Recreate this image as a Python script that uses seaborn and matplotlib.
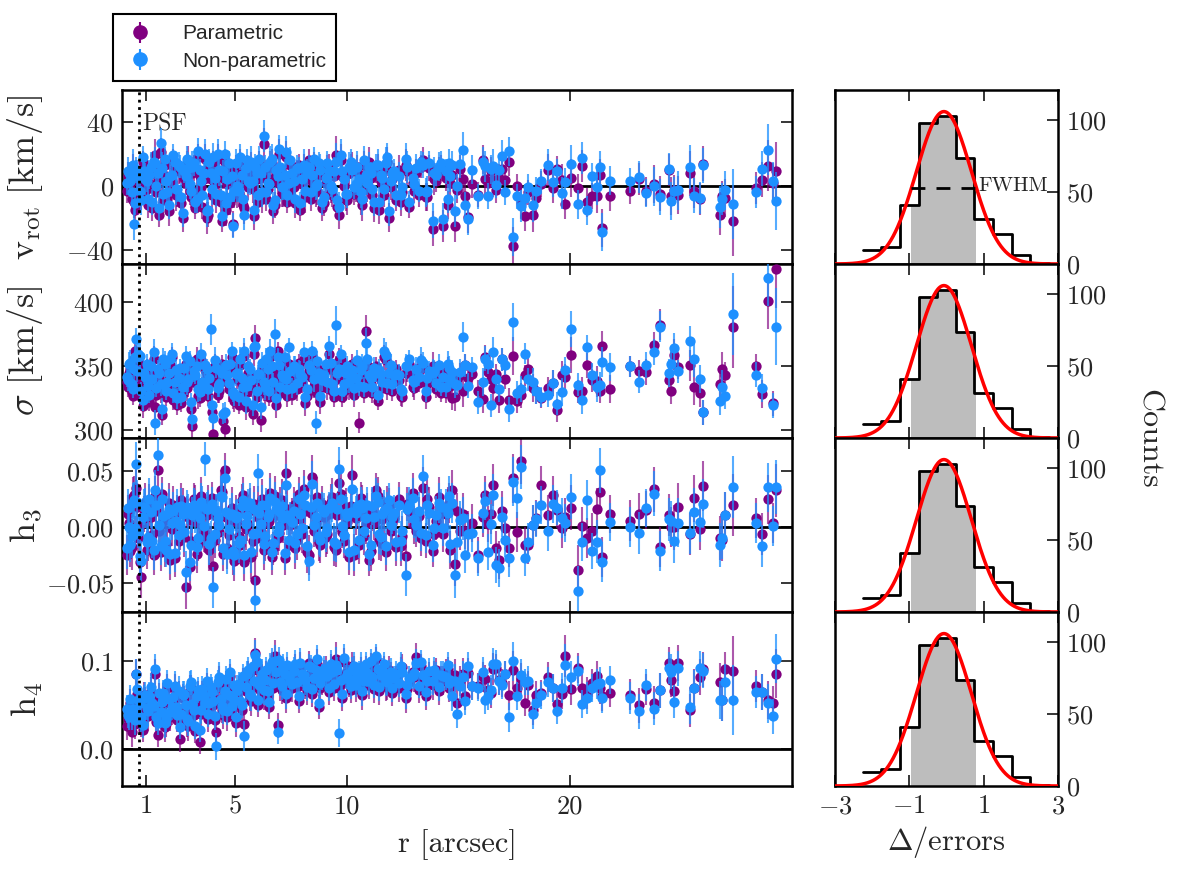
import numpy as np
import matplotlib
matplotlib.use("Agg")
import matplotlib.pyplot as plt
import seaborn as sns
import pandas as pd

# ---------------- data ----------------
r = [0.15, 0.25, 0.35, 0.45, 0.55, 0.65, 0.78, 0.90, 1.02, 1.15,
     1.28, 1.40, 1.52, 1.65, 1.78, 1.90, 2.02, 2.15, 2.28, 2.40,
     2.52, 2.65, 2.78, 2.90, 3.02, 3.15, 3.28, 3.40, 3.52, 3.65,
     3.78, 3.90, 4.02, 4.15, 4.28, 4.40, 4.52, 4.65, 4.78, 4.90,
     5.02, 5.15, 5.28, 5.40, 5.52, 5.65, 5.78, 5.90, 6.02, 6.15,
     6.28, 6.40, 6.52, 6.65, 6.78, 6.90, 7.02, 7.15, 7.28, 7.40,
     7.55, 7.70, 7.85, 8.00, 8.15, 8.30, 8.45, 8.60, 8.75, 8.90,
     9.05, 9.20, 9.35, 9.50, 9.65, 9.80, 9.95, 10.10, 10.25, 10.40,
     10.55, 10.70, 10.85, 11.00, 11.15, 11.30, 11.45, 11.60, 11.75, 11.90,
     12.05, 12.20, 12.35, 12.50, 12.65, 12.80, 12.95, 13.10, 13.25, 13.40,
     13.55, 13.70, 13.85, 14.00, 14.15, 14.30, 14.45, 14.58,
     14.71, 14.85, 14.95, 15.08, 15.20, 15.30, 15.46, 15.60, 15.90, 16.10,
     16.22, 16.35, 16.46, 16.58, 16.70, 16.84, 16.95, 17.10, 17.29, 17.47,
     17.62, 17.80, 18.00, 18.15, 18.34, 18.49, 18.71, 19.04, 19.25, 19.45,
     19.65, 19.79, 20.04, 20.36, 20.55, 20.76, 20.98, 21.21, 21.35, 21.43, 21.81,
     22.70, 23.12, 23.42, 23.79, 24.05, 24.45, 24.55, 24.68, 24.87, 25.39,
     25.57, 25.84, 25.99, 26.74, 26.84, 26.96, 27.34, 28.35, 28.61, 28.88,
     29.10, 29.25,
     0.20, 0.30, 0.40, 0.50, 0.60, 0.72, 0.84, 0.96, 1.08, 1.21,
     1.34, 1.46, 1.58, 1.71, 1.84, 1.96, 2.08, 2.21, 2.34, 2.46,
     2.58, 2.71, 2.84, 2.96, 3.08, 3.21, 3.34, 3.46, 3.58, 3.71,
     3.84, 3.96, 4.08, 4.21, 4.34, 4.46, 4.58, 4.71, 4.84, 4.96,
     5.08, 5.21, 5.34, 5.46, 5.58, 5.71, 5.84, 5.96, 6.08, 6.21,
     6.34, 6.46, 6.58, 6.71, 6.84, 6.96, 7.08, 7.21, 7.34, 7.47,
     7.62, 7.78, 7.92, 8.08, 8.22, 8.38, 8.52, 8.68, 8.82, 8.98,
     9.12, 9.28, 9.42, 9.58, 9.72, 9.88, 10.02, 10.18, 10.32, 10.48,
     10.62, 10.78, 10.92, 11.08, 11.22, 11.38, 11.52, 11.68, 11.82, 11.98,
     12.12, 12.42, 12.72, 13.02, 13.32, 13.62, 13.92, 14.22, 14.52, 14.64]

v_par = [-3, 5, -8, -10, 8, 4, -6, 12, -2, 2,
         -14, 19, 4, 21, -9, 6, -16, 3, 12, -5,
         9, -20, 2, 15, -7, 11, -3, 6, -13, 17,
         -18, 4, 13, -9, 7, -22, 15, 1, -11, -24,
         10, -6, 3, -14, 12, 6, -2, 8, -10, 5,
         26, -8, 4, 14, -12, 2, 9, -5, 18, -3,
         5, -11, 13, 1, -7, 16, 3, -4, 10, -14,
         2, 12, -6, 19, -18, 6, -9, 8, 13, -3,
         7, -12, 3, 15, -6, 9, -15, 1, 11, -20,
         4, -9, 10, -4, 13, -13, 2, 8, -6, 16,
         -7, 11, -27, 3, 9, -25, 5, 8,
         6.9, -25.4, -2.5, 10.4, 4.2, -6.7, -19.6, 1.2, -5.6, 16.3,
         4.2, 1.7, 9.0, 3.8, -2.5, 4.8, 10.4, 3.8, 15.2, -37.9,
         -0.4, -10.8, -19.2, -4.2, -18.1, -7.7, 1.2, 10.0, -1.5, 10.4,
         3.8, -11.5, 4.8, -1.5, 12.5, -10.4, -6.3, -6.3, 6.9, -26.5, -6.7,
         -3.5, 4.2, -3.5, 1.0, -5.0, 10.0, -6.3, -2.5, -5.6, 7.9,
         -3.1, -8.3, 13.8, -18.0, -6.7, -7.7, -22.0, -1.5, 3.8, 12.5,
         2.0, 9.4,
         6, -2, 10, -15, 3, -7, 15, 0, -12, 8,
         11, -4, -18, 7, 13, -8, 2, 16, -6, 9,
         -11, 5, 14, -3, 8, -14, 18, -1, 4, -20,
         12, -6, 1, 17, -10, 5, -15, 10, 2, -7,
         -4, 15, -12, 7, -1, 11, -19, 4, 14, -8,
         9, -2, 12, -16, 6, 20, -5, 3, -10, 13,
         -1, 8, -15, 10, 4, -8, 14, -3, 7, -11,
         11, -4, 6, -13, 16, 0, -9, 12, -5, 9,
         -8, 13, -2, 5, -14, 10, 3, -6, 15, -1,
         6, -10, 9, -3, 12, -7, 4, 11, -12, 2]
v_np = [2, 8, -4, -24, 10, 6, -9, 9, 3, 7,
        -10, 14, 8, 27, -5, 3, -12, 7, 15, -2,
        12, -17, 6, 11, -3, 14, -8, 10, -6, 20,
        -15, 8, 18, -5, 10, -19, 20, 4, -7, -25,
        14, -3, 7, -18, 16, 2, 3, 12, -6, 8,
        31, -4, 1, 17, -9, 6, 12, -1, 21, 2,
        8, -8, 11, 4, -3, 12, 7, 0, 14, -10,
        5, 9, -2, 15, -13, 9, -5, 12, 10, 1,
        4, -8, 7, 12, -2, 13, -10, 5, 14, -16,
        8, -6, 6, -1, 17, -10, 5, 11, -3, 13,
        -4, 14, -22, 7, 12, -21, 9, 14,
        13.1, -16.0, -0.4, 13.8, 22.5, -11.9, -20.8, 10.0, -6.7, 15.2,
        12.1, -6.3, 10.4, 12.1, 0.6, 10.0, 18.8, -4.2, 21.5, -32.0,
        -6.7, -12.9, -7.7, -0.8, -11.9, -3.5, 2.7, 13.1, 2.1, 9.0,
        -4.6, 2.1, 13.5, -11.5, 17.3, -15.4, 6.3, -0.8, 11.7, -29.0, 3.3,
        3.3, 5.4, -4.6, -0.4, -7.0, 10.8, -9.4, -3.5, -2.9, 11.7,
        -6.3, -7.7, 12.9, -13.3, -8.3, -2.9, -11.5, -4.0, 10.6, 22.5,
        2.7, -9.4,
        9, 3, 13, -11, 7, -3, 18, 4, -8, 12,
        15, 0, -14, 11, 17, -4, 6, 19, -2, 13,
        -7, 9, 17, 1, 12, -10, 22, 3, 8, -16,
        15, -2, 5, 20, -6, 9, -11, 14, 6, -3,
        0, 18, -8, 11, 3, 15, -15, 8, 17, -4,
        12, 2, 15, -12, 10, 23, -1, 7, -6, 16,
        3, 11, -11, 13, 8, -4, 17, 1, 10, -7,
        14, 0, 9, -9, 19, 4, -5, 15, -1, 12,
        -4, 16, 2, 8, -10, 13, 7, -2, 18, 3,
        9, -6, 12, 1, 15, -3, 8, 14, -8, 6]
v_err = [8, 7, 9, 10, 8, 7, 9, 8, 7, 9,
         8, 10, 7, 9, 8, 7, 9, 8, 7, 8,
         7, 9, 8, 10, 7, 8, 9, 7, 8, 9,
         8, 7, 9, 8, 10, 7, 8, 9, 7, 8,
         9, 7, 8, 10, 7, 8, 9, 8, 7, 9,
         10, 8, 7, 9, 8, 7, 9, 8, 10, 7,
         8, 9, 7, 8, 10, 7, 8, 9, 7, 8,
         9, 8, 7, 12, 9, 8, 7, 9, 8, 7,
         8, 10, 7, 9, 8, 7, 9, 8, 10, 9,
         8, 7, 9, 8, 10, 7, 8, 9, 7, 8,
         9, 8, 11, 7, 9, 10, 8, 9,
         9, 10, 8, 9, 11, 8, 10, 9, 8, 9,
         10, 8, 9, 11, 8, 9, 10, 8, 9, 12,
         8, 10, 9, 8, 11, 9, 8, 10, 9, 8,
         10, 9, 12, 9, 10, 9, 8, 11, 10, 12, 9,
         8, 10, 9, 12, 11, 10, 12, 9, 12, 14,
         11, 10, 11, 13, 10, 12, 22, 10, 11, 16,
         12, 18,
         9, 8, 10, 7, 9, 8, 7, 10, 8, 9,
         7, 9, 8, 10, 7, 8, 9, 7, 10, 8,
         9, 7, 8, 9, 10, 7, 8, 9, 7, 10,
         8, 10, 7, 9, 8, 7, 10, 8, 9, 7,
         10, 8, 9, 7, 8, 10, 9, 7, 8, 9,
         7, 9, 10, 8, 7, 9, 8, 10, 7, 8,
         9, 8, 7, 10, 9, 8, 7, 9, 10, 8,
         8, 7, 9, 8, 10, 7, 9, 8, 7, 10,
         10, 9, 8, 7, 9, 10, 8, 7, 9, 8,
         8, 9, 10, 8, 7, 9, 10, 8, 9, 10]

s_par = [338, 345, 330, 355, 358, 335, 326, 340, 348, 322,
         335, 318, 344, 330, 350, 326, 339, 357, 332, 320,
         345, 329, 352, 336, 317, 341, 356, 325, 334, 347,
         327, 340, 297, 344, 331, 352, 301, 338, 346, 325,
         349, 320, 336, 358, 330, 343, 313, 372, 339, 308,
         333, 351, 326, 345, 339, 362, 329, 347, 335, 352,
         328, 344, 353, 337, 321, 346, 358, 330, 341, 334,
         347, 360, 331, 343, 355, 326, 340, 333, 352, 336,
         306, 345, 378, 338, 329, 350, 342, 333, 355, 340,
         331, 348, 339, 326, 345, 352, 334, 343, 337, 349,
         326, 341, 350, 332, 346, 338, 329, 344,
         325, 326, 340, 343, 330.5, 351, 341, 344, 330.5, 324.7,
         357, 345.6, 340, 333, 344, 323.4, 355.5, 340, 323.4, 358,
         322.7, 327.3, 343, 347.7, 333, 330.5, 325.3, 333, 337, 315.6,
         343, 341.7, 359, 330, 331, 350.8, 339, 338.3, 331, 366, 332,
         350, 346, 345.6, 367, 382.5, 339.6, 330.5, 359, 349.5, 350.8,
         334, 329, 314, 336.5, 348, 343.5, 381, 350, 328.6, 401,
         321, 426,
         334, 348, 327, 362, 341, 352, 319, 337, 330, 345,
         356, 328, 340, 312, 347, 333, 351, 324, 342, 336,
         321, 344, 333, 349, 303, 338, 327, 355, 331, 343,
         336, 314, 350, 328, 341, 307, 346, 332, 357, 323,
         340, 351, 329, 318, 345, 334, 360, 326, 339, 348,
         329, 343, 357, 333, 320, 346, 338, 352, 327, 341,
         345, 332, 339, 356, 327, 342, 335, 349, 322, 338,
         333, 348, 326, 340, 355, 331, 345, 337, 328, 350,
         342, 329, 351, 336, 344, 323, 339, 357, 332, 346,
         338, 327, 345, 333, 350, 336, 341, 329, 347, 335]
s_np = [342, 352, 336, 348, 371, 360, 331, 345, 352, 328,
        340, 306, 348, 336, 356, 331, 345, 360, 338, 325,
        349, 334, 358, 340, 322, 346, 350, 330, 338, 351,
        332, 379, 310, 349, 336, 345, 314, 343, 352, 330,
        344, 326, 341, 362, 335, 348, 320, 366, 344, 318,
        338, 356, 331, 350, 375, 357, 334, 342, 340, 365,
        333, 349, 348, 342, 326, 351, 362, 306, 345, 339,
        352, 366, 336, 382, 348, 331, 345, 338, 347, 341,
        335, 350, 368, 343, 334, 345, 347, 338, 359, 345,
        336, 344, 343, 331, 350, 356, 339, 348, 342, 353,
        331, 346, 345, 337, 351, 342, 334, 349,
        345.6, 336.5, 335.7, 345.6, 373, 351, 335, 349.5, 322, 337.8,
        356, 352, 319.5, 361, 340, 332.5, 355.5, 351, 316.4, 384.6,
        329.4, 332.5, 360, 340, 337.8, 330.5, 326, 327.3, 337, 320.8,
        330, 347, 379.4, 335.7, 323.4, 364.8, 343.5, 334, 335.7, 353.4, 349.5,
        350, 338, 351, 361, 381, 345, 352, 364, 346, 369.5,
        356, 340, 314, 322.7, 334, 326.6, 391, 343.5, 333, 419,
        319.5, 381,
        339, 353, 332, 357, 346, 358, 324, 342, 335, 350,
        361, 333, 345, 317, 352, 338, 356, 329, 347, 341,
        326, 349, 338, 354, 309, 343, 332, 360, 336, 348,
        341, 320, 355, 333, 346, 313, 351, 337, 362, 328,
        345, 356, 334, 323, 350, 339, 365, 331, 344, 353,
        334, 348, 362, 338, 325, 351, 343, 357, 332, 346,
        350, 337, 344, 361, 332, 347, 340, 354, 327, 343,
        338, 353, 331, 345, 360, 336, 350, 342, 333, 355,
        347, 334, 356, 341, 349, 328, 344, 362, 337, 351,
        343, 332, 350, 338, 355, 341, 346, 334, 352, 340]
s_err = [8, 9, 7, 10, 9, 8, 7, 9, 8, 7,
         8, 10, 7, 9, 8, 7, 9, 8, 7, 8,
         7, 9, 8, 10, 7, 8, 9, 7, 8, 9,
         8, 12, 9, 8, 10, 7, 8, 9, 7, 8,
         9, 7, 8, 10, 7, 8, 9, 10, 7, 9,
         10, 8, 7, 9, 12, 7, 9, 8, 10, 7,
         8, 9, 7, 8, 10, 7, 8, 9, 7, 8,
         9, 8, 7, 15, 9, 8, 7, 9, 8, 7,
         8, 10, 12, 9, 8, 7, 9, 8, 10, 9,
         8, 7, 9, 8, 10, 7, 8, 9, 7, 8,
         9, 8, 11, 7, 9, 10, 8, 9,
         9, 11, 8, 10, 12, 9, 10, 8, 9, 11,
         10, 8, 9, 12, 8, 10, 9, 8, 10, 15,
         9, 10, 8, 9, 11, 10, 8, 9, 10, 9,
         11, 10, 14, 9, 11, 10, 9, 12, 10, 12, 11,
         8, 9, 10, 10, 12, 11, 10, 12, 9, 12,
         14, 11, 10, 11, 13, 10, 32, 10, 11, 22,
         10, 30,
         8, 10, 7, 9, 8, 10, 9, 7, 8, 9,
         10, 7, 9, 8, 10, 9, 7, 8, 9, 10,
         7, 9, 10, 8, 9, 7, 10, 8, 9, 8,
         9, 8, 10, 7, 9, 8, 9, 10, 7, 9,
         8, 9, 7, 10, 9, 8, 10, 9, 7, 8,
         10, 8, 9, 7, 10, 8, 9, 7, 9, 10,
         8, 9, 10, 8, 7, 9, 10, 8, 9, 7,
         9, 10, 8, 9, 7, 10, 8, 9, 10, 8,
         7, 8, 9, 10, 8, 7, 9, 10, 8, 9,
         10, 8, 7, 9, 10, 8, 9, 7, 10, 9]

h3_par = [-0.025, 0.004, -0.018, 0.029, 0.035, -0.010, -0.045, 0.012, -0.020, 0.020,
          -0.007, 0.028, 0.051, -0.022, 0.006, -0.015, 0.022, -0.002, -0.028, 0.013,
          -0.005, 0.018, -0.054, 0.009, -0.012, 0.025, -0.024, 0.003, 0.014, -0.008,
          0.021, -0.015, -0.035, 0.010, -0.004, 0.032, 0.051, -0.019, 0.006, -0.026,
          0.013, -0.008, 0.024, -0.031, 0.004, 0.017, -0.012, -0.047, 0.020, -0.003,
          -0.020, 0.015, 0.006, -0.027, 0.028, -0.010, 0.019, 0.002, 0.049, -0.016,
          0.010, -0.019, 0.030, -0.006, 0.015, -0.025, 0.045, 0.004, -0.013, 0.021,
          -0.009, 0.012, 0.027, -0.020, 0.040, -0.004, 0.018, -0.027, 0.047, 0.008,
          -0.016, 0.022, 0.003, -0.029, 0.014, 0.033, -0.011, 0.007, -0.022, 0.019,
          0.004, -0.018, 0.025, -0.008, -0.026, 0.015, 0.031, -0.003, 0.010, 0.035,
          -0.012, 0.018, -0.021, 0.006, 0.027, -0.006, 0.012, 0.022,
          0.033, -0.033, 0.0146, -0.003, 0.0116, -0.0033, -0.0033, 0.0036, -0.0247, 0.0095,
          0.029, 0.0027, 0.0116, 0.038, -0.019, -0.029, 0.0146, -0.001, -0.019, 0.044,
          -0.004, 0.059, -0.016, -0.016, 0.0021, 0.008, 0.038, 0.011, 0.029, 0.0155,
          -0.001, 0.009, 0.0176, -0.038, 0.0015, -0.010, -0.0033, 0.0164, 0.032, -0.027, 0.0116,
          0.006, 0.0116, 0.0155, 0.034, -0.018, 0.011, 0.0, 0.0, 0.018, -0.006,
          0.026, -0.002, 0.037, -0.0098, -0.011, 0.011, 0.020, 0.008, -0.006, 0.025,
          0.004, 0.033,
          0.012, -0.021, 0.027, -0.006, 0.018, -0.031, 0.004, 0.022, -0.014, 0.009,
          -0.025, 0.015, -0.003, 0.030, -0.017, 0.007, -0.029, 0.020, 0.001, -0.012,
          0.024, -0.009, 0.013, -0.036, 0.006, 0.019, -0.015, 0.028, -0.004, 0.011,
          -0.020, 0.026, -0.011, 0.003, 0.033, -0.024, 0.009, -0.007, 0.017, -0.030,
          0.005, -0.016, 0.029, -0.002, 0.014, -0.027, 0.021, -0.010, 0.008, 0.025,
          -0.013, 0.004, 0.031, -0.019, 0.011, -0.005, 0.024, -0.028, 0.016, 0.002,
          0.020, -0.011, 0.007, 0.034, -0.022, 0.013, -0.003, 0.027, -0.016, 0.009,
          -0.006, 0.023, -0.018, 0.011, 0.030, -0.012, 0.005, 0.019, -0.025, 0.014,
          0.026, -0.008, 0.015, -0.021, 0.004, 0.028, -0.014, 0.010, 0.022, -0.003,
          0.008, -0.017, 0.021, 0.002, -0.010, 0.025, -0.006, 0.013, 0.018, -0.020]
h3_np = [-0.019, 0.000, -0.008, 0.024, 0.057, -0.004, -0.030, 0.018, -0.013, 0.025,
         -0.012, 0.033, 0.065, -0.017, 0.010, -0.020, 0.016, 0.004, -0.023, 0.018,
         0.002, 0.012, -0.040, 0.014, -0.016, 0.020, -0.018, 0.008, 0.019, 0.061,
         0.016, -0.010, -0.054, 0.015, 0.002, 0.027, 0.044, -0.024, 0.011, -0.021,
         0.008, -0.014, 0.019, -0.025, 0.010, 0.022, -0.006, -0.065, 0.049, 0.003,
         -0.015, 0.020, 0.012, -0.022, 0.023, -0.004, 0.014, 0.008, 0.038, -0.011,
         0.005, -0.014, 0.025, -0.001, 0.020, -0.030, 0.039, 0.009, -0.008, 0.016,
         -0.004, 0.017, 0.022, -0.015, 0.052, 0.001, 0.013, -0.022, 0.034, 0.013,
         -0.011, 0.017, 0.008, -0.024, 0.019, 0.028, -0.006, 0.012, -0.017, 0.024,
         0.009, -0.013, 0.020, -0.003, -0.043, 0.020, 0.026, 0.002, 0.015, 0.046,
         -0.007, 0.013, -0.016, 0.011, 0.022, -0.001, 0.017, 0.028,
         0.022, -0.043, -0.013, 0.0065, 0.008, -0.0246, -0.006, -0.0054, -0.028, 0.0125,
         0.0235, -0.022, 0.0027, 0.029, -0.0336, -0.0366, 0.0095, -0.011, -0.0273, 0.041,
         0.026, 0.054, -0.028, -0.013, 0.002, 0.0074, 0.020, -0.0033, 0.0205, 0.0176,
         0.0086, 0.0036, 0.0274, -0.057, -0.0134, 0.0244, -0.0211, -0.0128, 0.051, -0.031, 0.005,
         0.0, -0.005, 0.017, 0.030, -0.021, 0.007, 0.0057, -0.012, 0.004, -0.005,
         0.014, 0.005, 0.021, -0.016, -0.0098, 0.011, 0.036, 0.0036, -0.017, 0.036,
         0.001, 0.036,
         0.017, -0.016, 0.022, -0.001, 0.023, -0.026, 0.009, 0.017, -0.009, 0.014,
         -0.020, 0.020, 0.002, 0.025, -0.012, 0.012, -0.024, 0.015, 0.006, -0.007,
         0.019, -0.004, 0.018, -0.031, 0.011, 0.014, -0.010, 0.023, 0.001, 0.016,
         -0.015, 0.021, -0.006, 0.008, 0.028, -0.019, 0.014, -0.002, 0.012, -0.025,
         0.010, -0.011, 0.024, 0.003, 0.019, -0.022, 0.016, -0.005, 0.013, 0.020,
         -0.008, 0.009, 0.026, -0.014, 0.016, 0.000, 0.019, -0.023, 0.011, 0.007,
         0.015, -0.006, 0.012, 0.029, -0.017, 0.018, 0.002, 0.022, -0.011, 0.014,
         -0.001, 0.018, -0.013, 0.016, 0.025, -0.007, 0.010, 0.014, -0.020, 0.019,
         0.021, -0.003, 0.020, -0.016, 0.009, 0.023, -0.009, 0.015, 0.017, 0.002,
         0.013, -0.012, 0.016, 0.007, -0.005, 0.020, -0.001, 0.018, 0.013, -0.015]
h3_err = [0.018, 0.016, 0.020, 0.017, 0.019, 0.015, 0.018, 0.016, 0.017, 0.019,
          0.016, 0.018, 0.015, 0.017, 0.019, 0.016, 0.018, 0.015, 0.017, 0.016,
          0.015, 0.017, 0.019, 0.016, 0.018, 0.015, 0.017, 0.016, 0.018, 0.015,
          0.017, 0.016, 0.018, 0.015, 0.017, 0.019, 0.016, 0.018, 0.015, 0.017,
          0.016, 0.018, 0.015, 0.017, 0.016, 0.018, 0.015, 0.020, 0.017, 0.016,
          0.018, 0.015, 0.017, 0.016, 0.018, 0.015, 0.017, 0.016, 0.019, 0.015,
          0.016, 0.018, 0.015, 0.017, 0.016, 0.018, 0.020, 0.015, 0.017, 0.016,
          0.018, 0.015, 0.017, 0.016, 0.020, 0.015, 0.017, 0.016, 0.018, 0.015,
          0.017, 0.016, 0.018, 0.015, 0.017, 0.016, 0.018, 0.015, 0.017, 0.016,
          0.015, 0.017, 0.016, 0.018, 0.019, 0.016, 0.018, 0.015, 0.017, 0.019,
          0.016, 0.018, 0.015, 0.017, 0.018, 0.016, 0.017, 0.018,
          0.018, 0.020, 0.016, 0.017, 0.019, 0.016, 0.018, 0.017, 0.016, 0.018,
          0.017, 0.016, 0.018, 0.019, 0.016, 0.017, 0.018, 0.016, 0.017, 0.022,
          0.018, 0.020, 0.016, 0.017, 0.018, 0.016, 0.017, 0.018, 0.017, 0.016,
          0.018, 0.017, 0.020, 0.022, 0.017, 0.018, 0.016, 0.019, 0.020, 0.018, 0.017,
          0.018, 0.019, 0.017, 0.020, 0.018, 0.019, 0.018, 0.020, 0.022, 0.019,
          0.021, 0.018, 0.022, 0.020, 0.019, 0.021, 0.028, 0.018, 0.019, 0.022,
          0.018, 0.024,
          0.017, 0.015, 0.018, 0.016, 0.019, 0.015, 0.017, 0.018, 0.016, 0.015,
          0.018, 0.016, 0.017, 0.015, 0.019, 0.016, 0.018, 0.017, 0.015, 0.016,
          0.016, 0.018, 0.015, 0.017, 0.016, 0.019, 0.015, 0.017, 0.018, 0.016,
          0.019, 0.015, 0.017, 0.016, 0.018, 0.015, 0.017, 0.016, 0.019, 0.018,
          0.015, 0.017, 0.016, 0.018, 0.015, 0.019, 0.016, 0.017, 0.015, 0.018,
          0.017, 0.016, 0.018, 0.015, 0.017, 0.016, 0.019, 0.015, 0.018, 0.016,
          0.016, 0.018, 0.015, 0.017, 0.019, 0.016, 0.015, 0.018, 0.016, 0.017,
          0.018, 0.016, 0.017, 0.015, 0.018, 0.016, 0.017, 0.015, 0.019, 0.016,
          0.015, 0.017, 0.016, 0.018, 0.015, 0.017, 0.016, 0.018, 0.015, 0.017,
          0.016, 0.018, 0.015, 0.017, 0.016, 0.018, 0.017, 0.016, 0.018, 0.017]

h4_par = [0.026, 0.045, 0.020, 0.038, 0.086, 0.052, 0.030, 0.061, 0.041, 0.055,
          0.048, 0.086, 0.016, 0.036, 0.060, 0.028, 0.052, 0.042, 0.068, 0.033,
          0.011, 0.058, 0.045, 0.026, 0.070, 0.039, 0.054, 0.008, 0.063, 0.047,
          0.034, 0.066, 0.050, 0.020, 0.077, 0.044, 0.061, 0.037, 0.083, 0.053,
          0.030, 0.069, 0.045, 0.028, 0.080, 0.058, 0.090, 0.109, 0.050, 0.075,
          0.062, 0.085, 0.048, 0.095, 0.106, 0.027, 0.071, 0.088, 0.058, 0.078,
          0.069, 0.092, 0.055, 0.081, 0.074, 0.098, 0.063, 0.085, 0.048, 0.077,
          0.090, 0.065, 0.083, 0.102, 0.070, 0.058, 0.087, 0.075, 0.095, 0.068,
          0.080, 0.061, 0.092, 0.073, 0.087, 0.102, 0.066, 0.084, 0.072, 0.090,
          0.064, 0.081, 0.070, 0.093, 0.058, 0.076, 0.088, 0.105, 0.067, 0.079,
          0.060, 0.084, 0.073, 0.090, 0.066, 0.078, 0.087, 0.070,
          0.082, 0.084, 0.052, 0.077, 0.086, 0.060, 0.087, 0.072, 0.072, 0.082,
          0.080, 0.067, 0.064, 0.091, 0.092, 0.079, 0.075, 0.085, 0.061, 0.090,
          0.070, 0.080, 0.053, 0.073, 0.044, 0.061, 0.064, 0.082, 0.070, 0.051,
          0.063, 0.106, 0.068, 0.092, 0.069, 0.064, 0.075, 0.083, 0.069, 0.060, 0.064,
          0.062, 0.050, 0.068, 0.053, 0.067, 0.098, 0.079, 0.066, 0.098, 0.044,
          0.070, 0.082, 0.091, 0.0765, 0.056, 0.091, 0.089, 0.0716, 0.065, 0.056,
          0.052, 0.086,
          0.034, 0.052, 0.041, 0.028, 0.063, 0.047, 0.022, 0.056, 0.038, 0.066,
          0.044, 0.031, 0.059, 0.049, 0.025, 0.070, 0.037, 0.054, 0.043, 0.061,
          0.035, 0.058, 0.029, 0.067, 0.046, 0.021, 0.062, 0.040, 0.055, 0.073,
          0.048, 0.060, 0.033, 0.071, 0.052, 0.039, 0.075, 0.057, 0.044, 0.068,
          0.062, 0.050, 0.078, 0.066, 0.085, 0.055, 0.072, 0.094, 0.068, 0.081,
          0.074, 0.061, 0.089, 0.070, 0.083, 0.096, 0.067, 0.080, 0.091, 0.072,
          0.084, 0.071, 0.093, 0.079, 0.066, 0.088, 0.076, 0.097, 0.070, 0.086,
          0.078, 0.092, 0.069, 0.085, 0.074, 0.099, 0.081, 0.067, 0.090, 0.077,
          0.088, 0.073, 0.082, 0.095, 0.068, 0.086, 0.079, 0.092, 0.071, 0.083,
          0.076, 0.089, 0.068, 0.082, 0.094, 0.072, 0.085, 0.079, 0.091, 0.074]
h4_np = [0.046, 0.036, 0.040, 0.044, 0.086, 0.056, 0.036, 0.058, 0.047, 0.060,
         0.053, 0.091, 0.030, 0.042, 0.064, 0.034, 0.057, 0.048, 0.072, 0.039,
         0.025, 0.062, 0.050, 0.032, 0.076, 0.044, 0.060, 0.022, 0.068, 0.052,
         0.040, 0.071, 0.055, 0.003, 0.082, 0.049, 0.066, 0.043, 0.088, 0.058,
         0.036, 0.074, 0.050, 0.015, 0.086, 0.063, 0.095, 0.107, 0.056, 0.080,
         0.067, 0.090, 0.054, 0.099, 0.100, 0.020, 0.076, 0.093, 0.063, 0.083,
         0.074, 0.097, 0.060, 0.086, 0.079, 0.094, 0.068, 0.090, 0.053, 0.082,
         0.085, 0.070, 0.088, 0.096, 0.018, 0.063, 0.082, 0.080, 0.090, 0.073,
         0.085, 0.066, 0.097, 0.078, 0.082, 0.106, 0.071, 0.089, 0.077, 0.085,
         0.069, 0.086, 0.075, 0.088, 0.063, 0.081, 0.083, 0.098, 0.072, 0.084,
         0.065, 0.089, 0.078, 0.085, 0.071, 0.083, 0.082, 0.075,
         0.060, 0.078, 0.040, 0.072, 0.082, 0.055, 0.094, 0.072, 0.070, 0.088,
         0.056, 0.060, 0.067, 0.097, 0.097, 0.078, 0.073, 0.085, 0.036, 0.100,
         0.060, 0.084, 0.076, 0.078, 0.040, 0.053, 0.061, 0.076, 0.070, 0.043,
         0.070, 0.096, 0.082, 0.089, 0.051, 0.058, 0.070, 0.074, 0.075, 0.058, 0.079,
         0.058, 0.043, 0.073, 0.046, 0.067, 0.092, 0.088, 0.054, 0.092, 0.048,
         0.069, 0.092, 0.089, 0.056, 0.056, 0.0765, 0.056, 0.065, 0.065, 0.052,
         0.0375, 0.103,
         0.039, 0.057, 0.046, 0.033, 0.068, 0.052, 0.027, 0.061, 0.043, 0.071,
         0.049, 0.036, 0.064, 0.054, 0.030, 0.075, 0.042, 0.059, 0.048, 0.066,
         0.040, 0.063, 0.034, 0.072, 0.051, 0.026, 0.067, 0.045, 0.060, 0.078,
         0.053, 0.065, 0.038, 0.076, 0.057, 0.044, 0.080, 0.062, 0.049, 0.073,
         0.067, 0.055, 0.083, 0.071, 0.090, 0.060, 0.077, 0.099, 0.073, 0.086,
         0.079, 0.066, 0.094, 0.075, 0.088, 0.101, 0.072, 0.085, 0.096, 0.077,
         0.089, 0.076, 0.098, 0.084, 0.071, 0.093, 0.081, 0.102, 0.075, 0.091,
         0.083, 0.097, 0.074, 0.090, 0.079, 0.104, 0.086, 0.072, 0.095, 0.082,
         0.093, 0.078, 0.087, 0.100, 0.073, 0.091, 0.084, 0.097, 0.076, 0.088,
         0.081, 0.094, 0.073, 0.087, 0.099, 0.077, 0.090, 0.084, 0.096, 0.079]
h4_err = [0.016, 0.014, 0.018, 0.015, 0.017, 0.014, 0.016, 0.015, 0.014, 0.016,
          0.015, 0.017, 0.014, 0.016, 0.015, 0.014, 0.016, 0.015, 0.017, 0.014,
          0.014, 0.016, 0.015, 0.017, 0.014, 0.015, 0.016, 0.014, 0.015, 0.016,
          0.015, 0.014, 0.016, 0.015, 0.017, 0.014, 0.015, 0.016, 0.014, 0.015,
          0.016, 0.014, 0.015, 0.017, 0.014, 0.015, 0.016, 0.017, 0.014, 0.016,
          0.017, 0.015, 0.014, 0.016, 0.018, 0.014, 0.016, 0.015, 0.017, 0.014,
          0.015, 0.016, 0.014, 0.015, 0.017, 0.014, 0.015, 0.016, 0.014, 0.015,
          0.016, 0.015, 0.014, 0.020, 0.016, 0.015, 0.014, 0.016, 0.015, 0.014,
          0.015, 0.017, 0.014, 0.016, 0.015, 0.014, 0.016, 0.015, 0.017, 0.016,
          0.015, 0.014, 0.016, 0.015, 0.017, 0.014, 0.015, 0.016, 0.014, 0.015,
          0.016, 0.015, 0.017, 0.014, 0.016, 0.017, 0.015, 0.016,
          0.017, 0.019, 0.016, 0.017, 0.018, 0.016, 0.017, 0.016, 0.015, 0.017,
          0.016, 0.015, 0.017, 0.018, 0.016, 0.017, 0.016, 0.015, 0.017, 0.022,
          0.016, 0.018, 0.015, 0.016, 0.017, 0.016, 0.015, 0.017, 0.016, 0.015,
          0.017, 0.024, 0.018, 0.017, 0.016, 0.018, 0.016, 0.017, 0.018, 0.017, 0.016,
          0.018, 0.020, 0.018, 0.019, 0.020, 0.018, 0.020, 0.019, 0.020, 0.019,
          0.021, 0.020, 0.020, 0.022, 0.024, 0.020, 0.040, 0.018, 0.020, 0.022,
          0.020, 0.028,
          0.015, 0.016, 0.014, 0.017, 0.015, 0.016, 0.014, 0.015, 0.017, 0.016,
          0.014, 0.015, 0.016, 0.014, 0.017, 0.015, 0.016, 0.014, 0.015, 0.017,
          0.016, 0.014, 0.015, 0.017, 0.016, 0.014, 0.015, 0.016, 0.017, 0.014,
          0.015, 0.017, 0.016, 0.014, 0.015, 0.016, 0.014, 0.017, 0.015, 0.016,
          0.017, 0.015, 0.014, 0.016, 0.015, 0.017, 0.016, 0.014, 0.015, 0.016,
          0.014, 0.016, 0.015, 0.017, 0.014, 0.015, 0.016, 0.015, 0.014, 0.017,
          0.016, 0.014, 0.017, 0.015, 0.016, 0.014, 0.015, 0.017, 0.016, 0.015,
          0.015, 0.016, 0.014, 0.015, 0.017, 0.016, 0.014, 0.015, 0.016, 0.014,
          0.017, 0.015, 0.016, 0.014, 0.015, 0.017, 0.016, 0.014, 0.015, 0.016,
          0.014, 0.016, 0.015, 0.017, 0.014, 0.016, 0.015, 0.016, 0.014, 0.015]

# histogram of (difference / errors), identical in the four panels
hist_edges = [-2.25, -1.75, -1.25, -0.75, -0.25, 0.25, 0.75, 1.25, 1.75, 2.25, 2.75]
hist_counts = [10, 12, 41, 98, 103, 74, 31, 21, 6, 1]
gauss_amp, gauss_mu, gauss_sigma = 106.0, -0.07, 0.74
fwhm_lo, fwhm_hi, fwhm_level = -0.95, 0.80, 53.0

psf_r = 0.69
panel_labels = [r'$\mathrm{v_{rot}\ [km/s]}$', r'$\sigma\ \mathrm{[km/s]}$',
                r'$\mathrm{h_3}$', r'$\mathrm{h_4}$']
panel_ylims = [(-49, 60), (294, 430), (-0.076, 0.080), (-0.042, 0.156)]
panel_yticks = [[-40, 0, 40], [300, 350, 400], [-0.05, 0.0, 0.05], [0.0, 0.1]]
r_ticks = [1, 5, 10, 20]
series_labels = ['Parametric', 'Non-parametric']

# ---------------- style ----------------
sns.set_style('ticks')
plt.rcParams.update({
    'font.family': 'serif',
    'font.serif': ['cmr10'],
    'mathtext.fontset': 'cm',
    'axes.formatter.use_mathtext': True,
    'axes.unicode_minus': True,
    'axes.linewidth': 1.8,
    'axes.edgecolor': 'black',
    'xtick.direction': 'in',
    'ytick.direction': 'in',
    'xtick.major.size': 8,
    'ytick.major.size': 8,
    'xtick.major.width': 1.3,
    'ytick.major.width': 1.3,
    'xtick.minor.visible': False,
    'ytick.minor.visible': False,
})

PURPLE = '#800080'
BLUE = '#1E90FF'
TICK_FS = 19

fig = plt.figure(figsize=(11.78, 8.82), dpi=100)
W, H = 1178.0, 882.0
left_x0, left_w = 122 / W, 670 / W
right_x0, right_w = 835 / W, 223 / W
row_top = 90.0
row_h = 174.0

series = [
    (v_par, v_np, v_err),
    (s_par, s_np, s_err),
    (h3_par, h3_np, h3_err),
    (h4_par, h4_np, h4_err),
]

hist_df = pd.DataFrame({
    'center': [0.5 * (a + b) for a, b in zip(hist_edges[:-1], hist_edges[1:])],
    'count': hist_counts,
})

rr = np.array(r, dtype=float)
legend_handles = []
for i in range(4):
    y0 = 1 - (row_top + (i + 1) * row_h) / H
    ax = fig.add_axes([left_x0, y0, left_w, row_h / H])
    axh = fig.add_axes([right_x0, y0, right_w, row_h / H])

    ypar, ynp, yerr = [np.array(a, dtype=float) for a in series[i]]

    ax.errorbar(rr, ypar, yerr=yerr, fmt='none', ecolor=PURPLE, elinewidth=1.5,
                alpha=0.65, zorder=2)
    sns.scatterplot(x=rr, y=ypar, color=PURPLE, s=55, linewidth=0, ax=ax,
                    zorder=3, legend=False)
    ax.errorbar(rr, ynp, yerr=yerr, fmt='none', ecolor=BLUE, elinewidth=1.5,
                alpha=0.75, zorder=4)
    sns.scatterplot(x=rr, y=ynp, color=BLUE, s=55, linewidth=0, ax=ax,
                    zorder=5, legend=False)

    if i != 1:
        ax.axhline(0, color='black', lw=2, zorder=1)
    ax.axvline(psf_r, color='black', ls=':', lw=2, zorder=6)

    ax.set_xlim(-0.08, 29.97)
    ax.set_ylim(*panel_ylims[i])
    ax.set_xticks(r_ticks)
    ax.set_yticks(panel_yticks[i])
    ax.tick_params(axis='both', which='major', top=True, right=True,
                   labelsize=TICK_FS, pad=6)
    ax.set_ylabel(panel_labels[i], fontsize=26)
    ax.yaxis.set_label_coords(-0.115, 0.5)
    ax.set_xlabel('')
    if i < 3:
        ax.tick_params(labelbottom=False)
    else:
        ax.set_xticklabels([str(t) for t in r_ticks])
        ax.set_xlabel('r [arcsec]', fontsize=22, labelpad=8)
    if i == 0:
        ax.text(psf_r + 0.12, 38.5, 'PSF', fontsize=17, ha='left', va='center')
        h1 = ax.errorbar([np.nan], [np.nan], yerr=[1.0], fmt='o', color=PURPLE,
                         ms=9.5, elinewidth=1.5)
        h2 = ax.errorbar([np.nan], [np.nan], yerr=[1.0], fmt='o', color=BLUE,
                         ms=9.5, elinewidth=1.5)
        legend_handles = [h1, h2]
    for sp in ax.spines.values():
        sp.set_linewidth(1.8)

    # ---- histogram panel ----
    edges = np.array(hist_edges)
    counts = np.array(hist_counts, dtype=float)
    inner = edges[(edges > fwhm_lo) & (edges < fwhm_hi)]
    xs = np.concatenate([[fwhm_lo], inner, [fwhm_hi]])
    idx = np.clip(np.searchsorted(edges, xs, side='right') - 1, 0, len(counts) - 1)
    ys = counts[idx]
    axh.fill_between(xs, ys, step='post', color='#bdbdbd', lw=0, zorder=0)
    sns.histplot(data=hist_df, x='center', weights='count', bins=hist_edges,
                 element='step', fill=False, color='black', linewidth=2,
                 ax=axh, zorder=2)
    gx = np.linspace(-3, 3, 400)
    gy = gauss_amp * np.exp(-0.5 * ((gx - gauss_mu) / gauss_sigma) ** 2)
    sns.lineplot(x=gx, y=gy, color='red', linewidth=2.5, ax=axh, zorder=3)
    if i == 0:
        axh.plot([fwhm_lo, fwhm_hi], [fwhm_level, fwhm_level], color='black',
                 ls=(0, (5, 4)), lw=2, zorder=4)
        axh.text(fwhm_hi + 0.06, fwhm_level + 1, 'FWHM', fontsize=15,
                 ha='left', va='center')
    axh.set_xlim(-3, 3)
    axh.set_ylim(0, 121)
    axh.set_xticks([-3, -1, 1, 3])
    axh.set_yticks([0, 50, 100])
    axh.yaxis.tick_right()
    axh.tick_params(axis='y', left=False, right=True, labelright=True,
                    labelleft=False, labelsize=TICK_FS, pad=6)
    axh.tick_params(axis='x', top=True, bottom=True, labelsize=TICK_FS, pad=6)
    axh.set_ylabel('')
    axh.set_xlabel('')
    if i < 3:
        axh.tick_params(labelbottom=False)
    else:
        axh.set_xlabel(r'$\Delta/\mathrm{errors}$', fontsize=22, labelpad=4)
    for sp in axh.spines.values():
        sp.set_linewidth(1.8)

fig.text(1148 / W, 1 - 439 / H, 'Counts', rotation=270, fontsize=23,
         ha='center', va='center')

leg = fig.legend(handles=legend_handles, labels=series_labels,
                 loc='upper left', bbox_to_anchor=(113 / W, 1 - 14 / H),
                 bbox_transform=fig.transFigure,
                 prop={'family': 'Liberation Sans', 'size': 15},
                 frameon=True, fancybox=False, edgecolor='black',
                 framealpha=1, borderaxespad=0, handletextpad=1.2,
                 labelspacing=0.4, numpoints=1, handlelength=1.6,
                 borderpad=0.5)
leg.get_frame().set_linewidth(1.5)

fig.savefig('out.png', dpi=100)
